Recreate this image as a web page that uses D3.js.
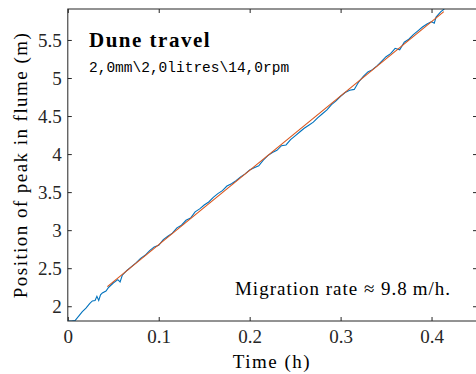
<!DOCTYPE html>
<html>
<head>
<meta charset="utf-8">
<script src="https://cdn.jsdelivr.net/npm/d3@7"></script>
<style>
  body { margin: 0; background: #fff; }
  svg { display: block; }
  .serif { font-family: "Liberation Serif", serif; fill: #000; }
  .mono { font-family: "Liberation Mono", monospace; fill: #000; }
  .tick text { font-family: "Liberation Serif", serif; font-size: 19px; fill: #262626; }
</style>
</head>
<body>
<svg id="chart" width="476" height="374"></svg>
<script>
// measured peak position over time
const timeH = [0.000, 0.004, 0.008, 0.012, 0.016, 0.020, 0.024, 0.027, 0.030, 0.032, 0.034, 0.036, 0.038, 0.042, 0.045,
  0.050, 0.055, 0.0575, 0.060, 0.065, 0.070, 0.075, 0.080, 0.085, 0.090, 0.095, 0.100, 0.105, 0.110, 0.115, 0.120,
  0.125, 0.130, 0.135, 0.140, 0.145, 0.150, 0.155, 0.160, 0.165, 0.170, 0.175, 0.180, 0.185, 0.190, 0.195, 0.200,
  0.205, 0.210, 0.215, 0.220, 0.225, 0.230, 0.235, 0.240, 0.245, 0.250, 0.255, 0.260, 0.265, 0.270, 0.275, 0.280,
  0.285, 0.290, 0.295, 0.300, 0.305, 0.310, 0.315, 0.320, 0.325, 0.330, 0.335, 0.340, 0.345, 0.350, 0.355, 0.360,
  0.365, 0.370, 0.375, 0.380, 0.385, 0.390, 0.395, 0.400, 0.403, 0.405, 0.410, 0.414];
const peakPos = [1.806, 1.806, 1.812, 1.870, 1.930, 1.975, 2.035, 2.070, 2.075, 2.130, 2.075, 2.150, 2.175, 2.200, 2.250,
  2.305, 2.350, 2.320, 2.410, 2.470, 2.520, 2.570, 2.630, 2.670, 2.730, 2.780, 2.800, 2.875, 2.920, 2.960, 3.030,
  3.065, 3.130, 3.160, 3.240, 3.280, 3.330, 3.370, 3.430, 3.480, 3.520, 3.580, 3.610, 3.650, 3.700, 3.740, 3.790,
  3.820, 3.845, 3.920, 3.980, 4.020, 4.050, 4.110, 4.120, 4.190, 4.240, 4.290, 4.340, 4.380, 4.420, 4.480, 4.530,
  4.580, 4.650, 4.700, 4.760, 4.810, 4.840, 4.850, 4.950, 5.020, 5.080, 5.110, 5.160, 5.220, 5.280, 5.320, 5.390,
  5.370, 5.470, 5.510, 5.570, 5.620, 5.670, 5.710, 5.740, 5.720, 5.800, 5.870, 5.907];

// linear fit end points
const fitTime = [0.0435, 0.4135];
const fitPos = [2.258, 5.873];

const xTicks = [0, 0.1, 0.2, 0.3, 0.4];
const xTickLabels = ["0", "0.1", "0.2", "0.3", "0.4"];
const yTicks = [2, 2.5, 3, 3.5, 4, 4.5, 5, 5.5];
const yTickLabels = ["2", "2.5", "3", "3.5", "4", "4.5", "5", "5.5"];

const margin = { top: 9, right: -1, bottom: 53, left: 67.8 };
const width = 476 - margin.left - margin.right;
const height = 374 - margin.top - margin.bottom;
const axisColor = "#262626";

const svg = d3.select("#chart");
const g = svg.append("g").attr("transform", `translate(${margin.left},${margin.top})`);

const x = d3.scaleLinear().domain([0, 0.45]).range([0, width]);
const y = d3.scaleLinear().domain([1.806, 5.907]).range([height, 0]);

g.append("clipPath").attr("id", "clip")
  .append("rect").attr("width", width).attr("height", height);

// axes, ticks pointing inward on all four sides
const xAxis = g.append("g")
  .attr("transform", `translate(0,${height})`)
  .call(d3.axisBottom(x).tickValues(xTicks).tickFormat((d, i) => xTickLabels[i])
    .tickSizeInner(-4).tickSizeOuter(0).tickPadding(9));
const xTop = g.append("g")
  .call(d3.axisTop(x).tickValues(xTicks).tickFormat("").tickSizeInner(-4).tickSizeOuter(0));
const yAxis = g.append("g")
  .call(d3.axisLeft(y).tickValues(yTicks).tickFormat((d, i) => yTickLabels[i])
    .tickSizeInner(-4).tickSizeOuter(0).tickPadding(6));
const yRight = g.append("g")
  .attr("transform", `translate(${width},0)`)
  .call(d3.axisRight(y).tickValues(yTicks).tickFormat("").tickSizeInner(-4).tickSizeOuter(0));

[xAxis, xTop, yAxis, yRight].forEach(a => {
  a.attr("font-family", null).attr("font-size", null);
  a.select(".domain").remove();
  a.selectAll("line").attr("stroke", axisColor);
});

// data and fit lines
const line = d3.line().x(d => x(d[0])).y(d => y(d[1]));
const plot = g.append("g").attr("clip-path", "url(#clip)");

plot.append("path")
  .datum(timeH.map((t, i) => [t, peakPos[i]]))
  .attr("fill", "none")
  .attr("stroke", "#0072BD")
  .attr("stroke-width", 1.1)
  .attr("d", line);

plot.append("path")
  .datum(fitTime.map((t, i) => [t, fitPos[i]]))
  .attr("fill", "none")
  .attr("stroke", "#D95319")
  .attr("stroke-width", 1.1)
  .attr("d", line);

// box
g.append("rect")
  .attr("width", width).attr("height", height)
  .attr("fill", "none").attr("stroke", axisColor).attr("stroke-width", 1);

// annotations
g.append("text")
  .attr("class", "serif")
  .attr("x", 89 - margin.left).attr("y", 46.7 - margin.top)
  .style("font-weight", "bold")
  .style("font-size", "21px").style("letter-spacing", "1.5px")
  .text("Dune travel");

g.append("text")
  .attr("class", "mono")
  .attr("x", 89 - margin.left).attr("y", 72 - margin.top)
  .style("font-size", "14.5px")
  .text("2,0mm\\2,0litres\\14,0rpm");

g.append("text")
  .attr("class", "serif")
  .attr("x", 451 - margin.left).attr("y", 295 - margin.top)
  .attr("text-anchor", "end")
  .style("font-size", "19px")
  .style("letter-spacing", "1px")
  .text("Migration rate \u2248 9.8\u2009m/h.");

// axis titles
g.append("text")
  .attr("class", "serif")
  .attr("x", 272 - margin.left).attr("y", 368 - margin.top)
  .attr("text-anchor", "middle")
  .style("font-size", "19px")
  .style("letter-spacing", "1.5px")
  .text("Time (h)");

g.append("text")
  .attr("class", "serif")
  .attr("transform", `translate(${27 - margin.left},${165 - margin.top}) rotate(-90)`)
  .attr("text-anchor", "middle")
  .style("font-size", "19px")
  .style("letter-spacing", "1.45px")
  .text("Position of peak in flume (m)");
</script>
</body>
</html>
